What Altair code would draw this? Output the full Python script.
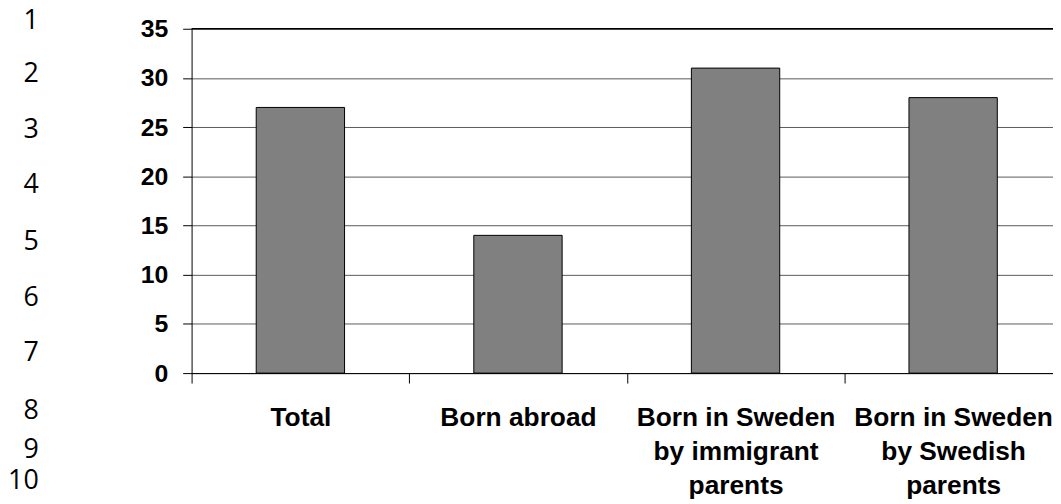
import altair as alt
import pandas as pd

# ---- data ----
CATEGORIES = [
    "Total",
    "Born abroad",
    "Born in Sweden\nby immigrant\nparents",
    "Born in Sweden\nby Swedish\nparents",
]
VALUES = [27, 14, 31, 28]
Y_TICKS = [0, 5, 10, 15, 20, 25, 30, 35]
ROW_LABELS = ["1", "2", "3", "4", "5", "6", "7", "8", "9", "10"]

# ---- layout (pixel offsets of the spreadsheet row headers, relative to plot top) ----
ROW_Y = [-8, 46, 102, 158, 215, 271, 327, 385, 425, 456]
ROW_X = -154

df = pd.DataFrame({"category": CATEGORIES, "value": VALUES})
rows = pd.DataFrame({"row": ROW_LABELS, "ypos": ROW_Y})

x_enc = alt.X(
    "category:N",
    sort=CATEGORIES,
    title=None,
    # the plot area runs past the right edge of the picture: last band ends at 877px
    scale=alt.Scale(paddingInner=0, paddingOuter=0, rangeMax=877),
    axis=alt.Axis(
        labelAngle=0,
        tickBand="extent",
        tickSize=10,
        tickColor="black",
        domainColor="black",
        labelPadding=22,
        labelFont="Liberation Sans",
        labelFontWeight="bold",
        labelFontSize=26.5,
        labelColor="black",
        labelLineHeight=34,
        labelLimit=0,
        labelOverlap=False,
        labelBound=False,
        labelExpr="split(datum.label, '\\n')",
        grid=False,
    ),
)

y_enc = alt.Y(
    "value:Q",
    title=None,
    scale=alt.Scale(domain=[0, 35], nice=False),
    axis=alt.Axis(
        values=Y_TICKS,
        tickSize=9,
        tickColor="black",
        domainColor="black",
        labelPadding=15,
        labelFont="Liberation Sans",
        labelFontWeight="bold",
        labelFontSize=25,
        labelColor="black",
        grid=True,
        gridColor="#5a5a5a",
        gridWidth=1,
    ),
)

bars = alt.Chart(df).mark_bar(
    color="#808080", stroke="black", strokeWidth=1,
    width=alt.RelativeBandSize(0.406),
).encode(x=x_enc, y=y_enc)

top_line = alt.Chart(pd.DataFrame({"top": [35]})).mark_rule(
    color="black", strokeWidth=1.5
).encode(y=alt.Y("top:Q"))

row_text = alt.Chart(rows).mark_text(
    align="right", baseline="middle", font="Open Sans", fontSize=27, color="black"
).encode(
    x=alt.value(ROW_X),
    y=alt.Y("ypos:Q", scale=None, axis=None),
    text="row:N",
)

chart = alt.layer(bars, top_line, row_text).properties(
    width=868,
    height=347,
    autosize=alt.AutoSizeParams(type="none"),
    padding={"left": 185, "top": 19, "right": 0, "bottom": 130},
).configure_view(stroke=None)

chart.save("out.html", embed_options={"renderer": "svg", "actions": False})
